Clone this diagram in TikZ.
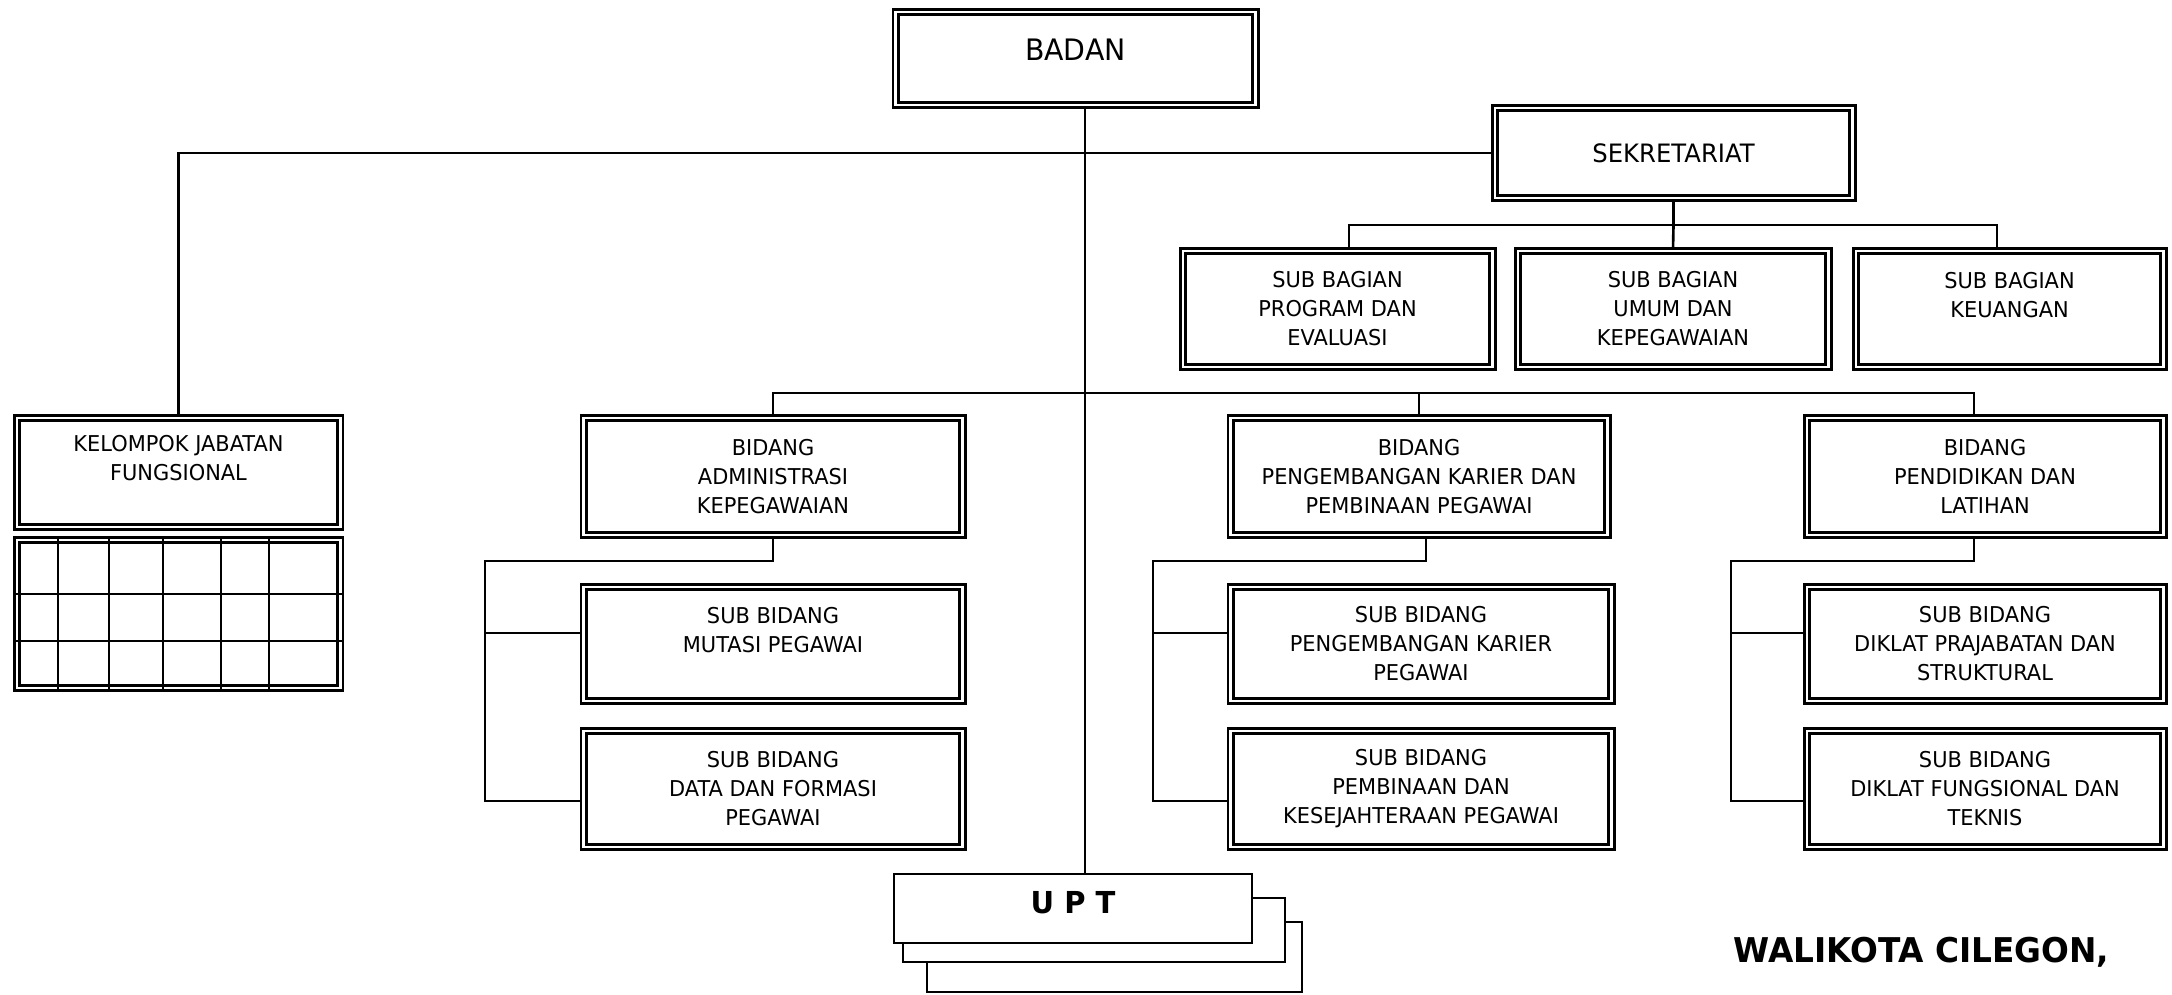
\documentclass[tikz,border=0pt]{standalone}
\usepackage{fontspec}
\setmainfont{DejaVu Sans}[FakeStretch=0.96]
\usepackage{tikz}

\begin{document}
\begin{tikzpicture}[x=0.01cm, y=-0.01cm,
    kotak/.style={draw, double, double distance=0.8pt, line width=0.85pt, align=center,
        inner sep=0pt, font=\fontsize{6.2}{8.25}\selectfont},
    garis/.style={line width=0.75pt},
    lapis/.style={draw, fill=white, line width=0.65pt, inner sep=0pt}]
    \useasboundingbox (0,0) rectangle (2172,995);

    % pimpinan dan sekretariat
    \node[kotak, minimum width=3.59cm, minimum height=0.93cm, font=\fontsize{8.4}{10}\selectfont,
        text height=6.5pt, text depth=5.6pt] (badan) at (1075.5,58.5) {BADAN};
    \node[kotak, minimum width=3.57cm, minimum height=0.90cm, font=\fontsize{7.2}{9}\selectfont]
        (sek) at (1673.5,153) {SEKRETARIAT};
    \node[kotak, minimum width=3.09cm, minimum height=1.16cm] (sb1) at (1337.5,309)
        {SUB BAGIAN\\PROGRAM DAN\\EVALUASI};
    \node[kotak, minimum width=3.10cm, minimum height=1.16cm] (sb2) at (1673,309)
        {SUB BAGIAN\\UMUM DAN\\KEPEGAWAIAN};
    \node[kotak, minimum width=3.07cm, minimum height=1.16cm] (sb3) at (2009.5,309)
        {SUB BAGIAN\\KEUANGAN\\~};

    % kelompok jabatan fungsional
    \node[kotak, minimum width=3.23cm, minimum height=1.09cm] (kjf) at (178.5,472.5)
        {KELOMPOK JABATAN\\FUNGSIONAL\\~};
    \node[kotak, minimum width=3.23cm, minimum height=1.48cm] (kgrid) at (178.5,614) {};
    \foreach \gx in {58,109,163,221,269}
        \draw[line width=0.6pt] (\gx,536) -- (\gx,692);
    \foreach \gy in {594,641}
        \draw[line width=0.6pt] (14,\gy) -- (343,\gy);

    % bidang
    \node[kotak, minimum width=3.78cm, minimum height=1.17cm] (b1) at (773,476.5)
        {BIDANG\\ADMINISTRASI\\KEPEGAWAIAN};
    \node[kotak, minimum width=3.76cm, minimum height=1.17cm] (b2) at (1419,476.5)
        {BIDANG\\PENGEMBANGAN KARIER DAN\\PEMBINAAN PEGAWAI};
    \node[kotak, minimum width=3.56cm, minimum height=1.17cm] (b3) at (1985,476.5)
        {BIDANG\\PENDIDIKAN DAN\\LATIHAN};

    % sub bidang
    \node[kotak, minimum width=3.78cm, minimum height=1.14cm] (s11) at (773,644)
        {SUB BIDANG\\MUTASI PEGAWAI\\~};
    \node[kotak, minimum width=3.78cm, minimum height=1.16cm] (s12) at (773,789)
        {SUB BIDANG\\DATA DAN FORMASI\\PEGAWAI};
    \node[kotak, minimum width=3.80cm, minimum height=1.14cm] (s21) at (1421,644)
        {SUB BIDANG\\PENGEMBANGAN KARIER\\PEGAWAI};
    \node[kotak, minimum width=3.80cm, minimum height=1.16cm] (s22) at (1421,789)
        {SUB BIDANG\\PEMBINAAN DAN\\KESEJAHTERAAN PEGAWAI};
    \node[kotak, minimum width=3.56cm, minimum height=1.14cm] (s31) at (1985,644)
        {SUB BIDANG\\DIKLAT PRAJABATAN DAN\\STRUKTURAL};
    \node[kotak, minimum width=3.56cm, minimum height=1.16cm] (s32) at (1985,789)
        {SUB BIDANG\\DIKLAT FUNGSIONAL DAN\\TEKNIS};

    % upt (tiga lapis)
    \node[lapis, minimum width=3.75cm, minimum height=0.70cm] (upt3) at (1114.5,957) {};
    \node[lapis, minimum width=3.82cm, minimum height=0.64cm] (upt2) at (1094,930) {};
    \node[lapis, minimum width=3.58cm, minimum height=0.69cm, font=\bfseries\fontsize{8.6}{10}\selectfont,
        text height=6.5pt, text depth=3.4pt] (upt1) at (1073,908.5) {U P T};

    \node[anchor=base west, inner sep=0pt, font=\bfseries\fontsize{9.7}{12}\selectfont]
        (ttd) at (1733,963) {WALIKOTA CILEGON,};

    % garis komando
    \coordinate (spine) at (1085,393);
    \coordinate (sbar) at (1673.5,225);
    \draw[garis] (badan.south -| spine) -- (upt1.north -| spine);
    \draw[garis] (sek.west) -| (kjf.north);
    \draw[garis] (sek.south) -- (sbar);
    \draw[garis] ([xshift=0.115cm]sb1.north) |- (sbar) -| ([xshift=-0.125cm]sb3.north);
    \draw[garis] (sbar) -- (sb2.north);
    \draw[garis] (b1.north) |- (spine) -| ([xshift=-0.11cm]b3.north);
    \draw[garis] (b2.north) -- (b2.north |- spine);

    \coordinate (k1) at (485,561);  \coordinate (k1a) at (485,633);  \coordinate (k1b) at (485,801);
    \coordinate (k2) at (1153,561); \coordinate (k2a) at (1153,633); \coordinate (k2b) at (1153,801);
    \coordinate (k3) at (1731,561); \coordinate (k3a) at (1731,633); \coordinate (k3b) at (1731,801);
    \draw[garis] (b1.south) |- (k1) -- (k1b) -- (k1b -| s12.west);
    \draw[garis] (k1a) -- (k1a -| s11.west);
    \draw[garis] ([xshift=0.07cm]b2.south) |- (k2) -- (k2b) -- (k2b -| s22.west);
    \draw[garis] (k2a) -- (k2a -| s21.west);
    \draw[garis] ([xshift=-0.11cm]b3.south) |- (k3) -- (k3b) -- (k3b -| s32.west);
    \draw[garis] (k3a) -- (k3a -| s31.west);
\end{tikzpicture}
\end{document}
